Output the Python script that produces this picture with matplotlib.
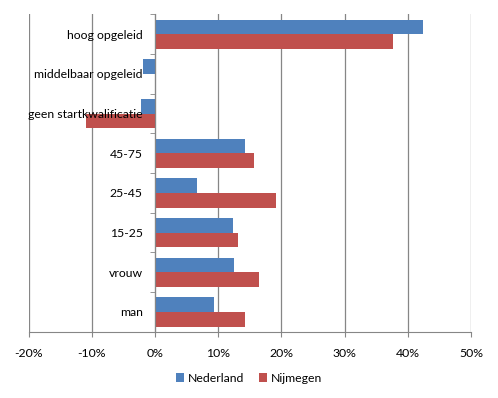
import matplotlib
matplotlib.use("Agg")
import matplotlib.pyplot as plt
import numpy as np
from matplotlib.ticker import FuncFormatter, FixedLocator

plt.rcParams['font.family'] = ['Lato', 'DejaVu Sans']

categories = ['man', 'vrouw', '15-25', '25-45', '45-75',
              'geen startkwalificatie', 'middelbaar opgeleid', 'hoog opgeleid']
nederland = [9.4, 12.5, 12.3, 6.7, 14.3, -2.3, -1.9, 42.4]
nijmegen = [14.3, 16.4, 13.2, 19.2, 15.7, -10.9, 0.0, 37.7]
xticks = [-20, -10, 0, 10, 20, 30, 40, 50]

blue = '#4F81BD'
red = '#C0504D'
grid = '#868686'

fig = plt.figure(figsize=(4.98, 3.98), dpi=100)
ax = fig.add_axes([0.0576, 0.1666, 0.888, 0.797])

y = np.arange(len(categories))
h = 0.37
ax.barh(y + h / 2, nederland, height=h, color=blue, label='Nederland', zorder=1)
ax.barh(y - h / 2, nijmegen, height=h, color=red, label='Nijmegen', zorder=1)

ax.set_xlim(-20, 50)
ax.set_ylim(-0.5, len(categories) - 0.5)
ax.set_xticks(xticks)
ax.xaxis.set_major_formatter(FuncFormatter(lambda v, p: f'{v:.0f}%'))
# gridlines behind the bars, axis (tick labels) on top
for t in xticks:
    ax.axvline(t, color=grid, linewidth=0.9, zorder=0.5)
ax.set_axisbelow(False)

for s in ['top', 'right']:
    ax.spines[s].set_visible(False)
ax.spines['left'].set_position(('data', 0))
ax.spines['left'].set_color(grid)
ax.spines['bottom'].set_color(grid)

ax.set_yticks(y)
ax.set_yticklabels(categories)
ax.yaxis.set_minor_locator(FixedLocator(np.arange(-0.5, len(categories), 1)))
ax.tick_params(axis='y', which='major', length=0, pad=9, labelsize=8.8)
ax.tick_params(axis='y', which='minor', length=3.5, color=grid)
ax.tick_params(axis='x', length=3.5, color=grid, labelsize=8.8, pad=8)

leg = fig.legend(loc='center', bbox_to_anchor=(0.5, 0.05), ncol=2, frameon=False,
                 fontsize=8.8, handlelength=0.7, handleheight=0.7, handletextpad=0.3,
                 columnspacing=1.2)

fig.savefig('out.png', dpi=100)
